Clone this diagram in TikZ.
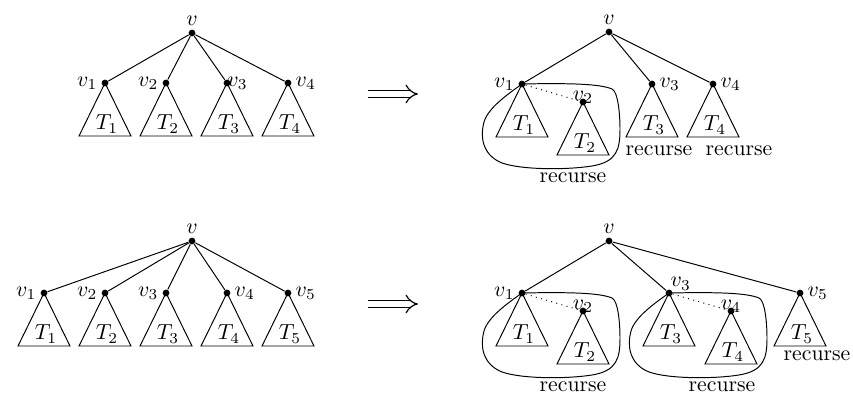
\documentclass[tikz,border=0pt]{standalone}
\usetikzlibrary{arrows.meta}
\begin{document}
\begin{tikzpicture}[x=0.46pt,y=-0.46pt,
  dot/.style={circle,fill=black,inner sep=0pt,minimum size=3.1pt},
  lbl/.style={inner sep=1.5pt},
  edge/.style={draw=black,line width=0.45pt},
  tri/.style={draw=black,line width=0.45pt},
  blobline/.style={draw=black,line width=0.45pt},
  tlabel/.style={inner sep=0pt},
  rec/.style={inner sep=0pt},
  implarrow/.style={double=white,draw=black,line width=0.55pt,double distance=2.5pt,-{Implies[length=4.5pt,width=9pt]}},
  pics/subtree/.style={code={
    \draw[tri] (0,0) -- (-26,53) -- (26,53) -- cycle;
    \node[tlabel] at (2,41) {#1};
  }},
  pics/blob/.style={code={
    \draw[blobline] (0,0) .. controls (50,-1) and (78,0) .. (90,5)
      .. controls (96,7.5) and (98,30) .. (98,45)
      .. controls (98,65) and (95,78) .. (70,82)
      .. controls (45,86) and (0,86) .. (-20,79)
      .. controls (-40,71) and (-42,52) .. (-38,38)
      .. controls (-34,24) and (-14,10) .. (0,0);
  }}
]
\useasboundingbox (0,0) rectangle (853,395);

% ---------- Tree A (top left) ----------
\node[dot,label={[lbl]above:$v$}] (av) at (192,33) {};
\node[dot,label={[lbl]left:$v_1$}] (av1) at (105,83) {};
\node[dot,label={[lbl]left:$v_2$}] (av2) at (166,83) {};
\node[dot] (av3) at (227,83) {};
\node[anchor=west,inner sep=0pt] (av3l) at (av3.center) {$v_3$};
\node[dot,label={[lbl]right:$v_4$}] (av4) at (288,83) {};
\foreach \i in {1,2,3,4} \draw[edge] (av) -- (av\i);
\pic at (av1) {subtree={$T_1$}};
\pic at (av2) {subtree={$T_2$}};
\pic at (av3) {subtree={$T_3$}};
\pic at (av4) {subtree={$T_4$}};

\coordinate (arr1s) at (368,94);
\coordinate (arr1e) at (418,94);
\draw[implarrow] (arr1s) -- (arr1e);

% ---------- Tree B (top right) ----------
\node[dot,label={[lbl]above:$v$}] (bv) at (609,32) {};
\node[dot,label={[lbl]left:$v_1$}] (bv1) at (522,84) {};
\node[dot] (bv2) at (583,102) {};
\node[anchor=base,inner sep=0pt] (bv2l) at ([yshift=0.9pt]bv2.center) {$v_2$};
\node[dot,label={[lbl]right:$v_3$}] (bv3) at (652,84) {};
\node[dot,label={[lbl]right:$v_4$}] (bv4) at (713,84) {};
\draw[edge] (bv) -- (bv1);
\draw[edge] (bv) -- (bv3);
\draw[edge] (bv) -- (bv4);
\draw[dotted,line width=0.45pt] (bv1) -- (bv2);
\pic at (bv1) {subtree={$T_1$}};
\pic at (bv2) {subtree={$T_2$}};
\pic at (bv3) {subtree={$T_3$}};
\pic at (bv4) {subtree={$T_4$}};
\pic at (bv1) {blob};
\node[rec] (brec1) at (573,178) {recurse};
\node[rec] (brec3) at (659,151) {recurse};
\node[rec] (brec4) at (739,151) {recurse};

% ---------- Tree C (bottom left) ----------
\node[dot,label={[lbl]above:$v$}] (cv) at (192,241) {};
\node[dot,label={[lbl]left:$v_1$}] (cv1) at (44,293) {};
\node[dot,label={[lbl]left:$v_2$}] (cv2) at (105,293) {};
\node[dot,label={[lbl]left:$v_3$}] (cv3) at (166,293) {};
\node[dot,label={[lbl]right:$v_4$}] (cv4) at (227,293) {};
\node[dot,label={[lbl]right:$v_5$}] (cv5) at (288,293) {};
\foreach \i in {1,2,3,4,5} \draw[edge] (cv) -- (cv\i);
\pic at (cv1) {subtree={$T_1$}};
\pic at (cv2) {subtree={$T_2$}};
\pic at (cv3) {subtree={$T_3$}};
\pic at (cv4) {subtree={$T_4$}};
\pic at (cv5) {subtree={$T_5$}};

\coordinate (arr2s) at (368,304);
\coordinate (arr2e) at (418,304);
\draw[implarrow] (arr2s) -- (arr2e);

% ---------- Tree D (bottom right) ----------
\node[dot,label={[lbl]above:$v$}] (dv) at (609,241) {};
\node[dot,label={[lbl]left:$v_1$}] (dv1) at (522,293) {};
\node[dot] (dv2) at (583,311) {};
\node[anchor=base,inner sep=0pt] (dv2l) at ([yshift=0.9pt]dv2.center) {$v_2$};
\node[dot] (dv3) at (669,293) {};
\node[anchor=base west,inner sep=0pt] (dv3l) at ([xshift=0.5pt,yshift=2.8pt]dv3.center) {$v_3$};
\node[dot] (dv4) at (731,311) {};
\node[anchor=base,inner sep=0pt] (dv4l) at ([yshift=0.9pt]dv4.center) {$v_4$};
\node[dot,label={[lbl]right:$v_5$}] (dv5) at (800,293) {};
\draw[edge] (dv) -- (dv1);
\draw[edge] (dv) -- (dv3);
\draw[edge] (dv) -- (dv5);
\draw[dotted,line width=0.45pt] (dv1) -- (dv2);
\draw[dotted,line width=0.45pt] (dv3) -- (dv4);
\pic at (dv1) {subtree={$T_1$}};
\pic at (dv2) {subtree={$T_2$}};
\pic at (dv3) {subtree={$T_3$}};
\pic at (dv4) {subtree={$T_4$}};
\pic at (dv5) {subtree={$T_5$}};
\pic at (dv1) {blob};
\pic at (dv3) {blob};
\node[rec] (drec1) at (573,387) {recurse};
\node[rec] (drec3) at (722,387) {recurse};
\node[rec] (drec5) at (817,356) {recurse};
\end{tikzpicture}
\end{document}
